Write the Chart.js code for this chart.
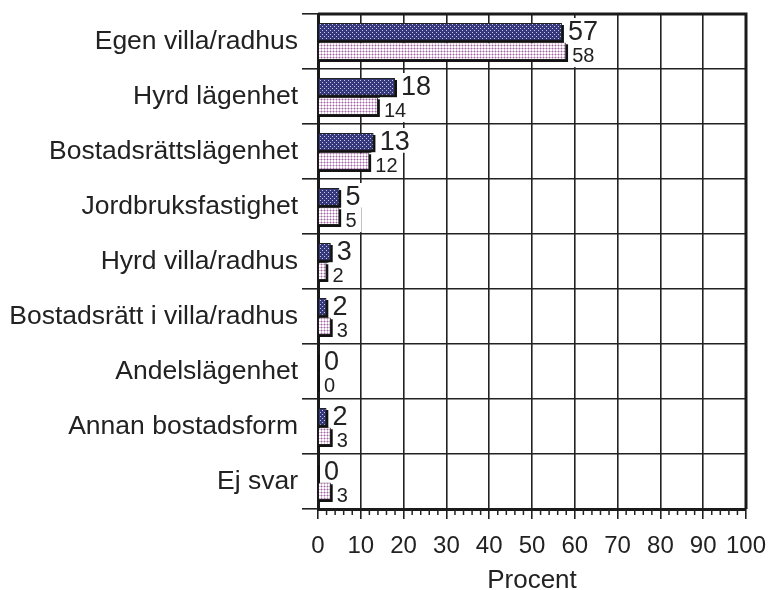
<!DOCTYPE html>
<html lang="sv">
<head>
    <meta charset="UTF-8">
    <title>Boendeform</title>
    <script src="https://cdn.jsdelivr.net/npm/chart.js"></script>
    <style>
        body {
            margin: 0;
            background: #fff;
        }
    </style>
</head>
<body>
    <canvas id="chart" width="771" height="590"></canvas>

    <script>
        const categories = [
            "Egen villa/radhus",
            "Hyrd lägenhet",
            "Bostadsrättslägenhet",
            "Jordbruksfastighet",
            "Hyrd villa/radhus",
            "Bostadsrätt i villa/radhus",
            "Andelslägenhet",
            "Annan bostadsform",
            "Ej svar"
        ];
        const series1 = [57, 18, 13, 5, 3, 2, 0, 2, 0];
        const series2 = [58, 14, 12, 5, 2, 3, 0, 3, 3];
        const xMin = 0;
        const xMax = 100;
        const xStep = 10;
        const minorStep = 2;

        const FONT = '"Liberation Sans", Arial, Helvetica, sans-serif';
        const canvas = document.getElementById("chart");
        const ctx = canvas.getContext("2d");

        // small tiles used as bar fills
        function makePattern(size, draw) {
            const c = document.createElement("canvas");
            c.width = size;
            c.height = size;
            draw(c.getContext("2d"));
            return ctx.createPattern(c, "repeat");
        }

        const navyDots = makePattern(4, g => {
            g.fillStyle = "#35387a";
            g.fillRect(0, 0, 4, 4);
            g.fillStyle = "#c4c6e4";
            g.fillRect(0, 0, 1, 1);
            g.fillRect(2, 2, 1, 1);
        });

        const pinkGrid = makePattern(3, g => {
            g.fillStyle = "#ffffff";
            g.fillRect(0, 0, 3, 3);
            g.fillStyle = "#dcb8da";
            g.fillRect(0, 0, 3, 1);
            g.fillRect(0, 0, 1, 3);
            g.fillStyle = "#9a6aa2";
            g.fillRect(0, 0, 1, 1);
        });

        // black drop shadow behind every bar
        const barShadow = {
            id: "barShadow",
            beforeDatasetsDraw(chart) {
                const c = chart.ctx;
                c.save();
                c.fillStyle = "#111";
                chart.data.datasets.forEach((ds, di) => {
                    chart.getDatasetMeta(di).data.forEach(bar => {
                        const left = Math.min(bar.base, bar.x);
                        const w = Math.abs(bar.x - bar.base);
                        c.fillRect(left, bar.y - bar.height / 2 + 2, w + 2, bar.height);
                    });
                });
                c.restore();
            }
        };

        // value labels on white boxes
        const valueLabels = {
            id: "valueLabels",
            afterDatasetsDraw(chart) {
                const c = chart.ctx;
                c.save();
                chart.data.datasets.forEach((ds, di) => {
                    const size = di === 0 ? 27 : 20;
                    c.font = size + "px " + FONT;
                    c.textBaseline = "middle";
                    chart.getDatasetMeta(di).data.forEach((bar, i) => {
                        const txt = String(ds.data[i]);
                        const w = c.measureText(txt).width;
                        const x = Math.max(bar.x, bar.base) + 2;
                        const half = bar.height / 2;
                        let yc, top, bottom;
                        if (di === 0) {
                            yc = bar.y + 1;
                            top = yc - size * 0.55;
                            bottom = bar.y + half + 2;
                        } else {
                            yc = bar.y + 5;
                            top = bar.y - half;
                            bottom = yc + size * 0.55;
                        }
                        c.fillStyle = "#fff";
                        c.fillRect(x, top, w + 9, bottom - top);
                        c.fillStyle = "#222";
                        c.fillText(txt, x + 4, yc);
                    });
                });
                c.restore();
            }
        };

        // minor ticks on the x axis plus top/right frame
        const frame = {
            id: "frame",
            afterDraw(chart) {
                const c = chart.ctx;
                const area = chart.chartArea;
                const xs = chart.scales.x;
                c.save();
                c.strokeStyle = "#222";
                c.lineWidth = 1.5;
                for (let v = xMin; v <= xMax; v += minorStep) {
                    if (v % xStep === 0) continue;
                    const px = xs.getPixelForValue(v);
                    c.beginPath();
                    c.moveTo(px, area.bottom);
                    c.lineTo(px, area.bottom + 6);
                    c.stroke();
                }
                c.lineWidth = 3;
                c.strokeStyle = "#1a1a1a";
                c.beginPath();
                c.moveTo(area.left, area.top);
                c.lineTo(area.right, area.top);
                c.lineTo(area.right, area.bottom);
                c.stroke();
                c.restore();
            }
        };

        new Chart(ctx, {
            type: "bar",
            data: {
                labels: categories,
                datasets: [
                    {
                        label: "Serie 1",
                        data: series1,
                        backgroundColor: navyDots,
                        borderColor: "#222",
                        borderWidth: 1,
                        categoryPercentage: 0.7,
                        barPercentage: 0.92
                    },
                    {
                        label: "Serie 2",
                        data: series2,
                        backgroundColor: pinkGrid,
                        borderColor: "#222",
                        borderWidth: 1,
                        categoryPercentage: 0.7,
                        barPercentage: 0.92
                    }
                ]
            },
            options: {
                indexAxis: "y",
                responsive: false,
                animation: false,
                layout: {
                    padding: { top: 14, right: 25, left: 0, bottom: 0 }
                },
                plugins: {
                    legend: { display: false },
                    tooltip: { enabled: false }
                },
                scales: {
                    x: {
                        min: xMin,
                        max: xMax,
                        afterFit: s => {
                            s.height = 81;
                            s.paddingLeft = 0;
                            s.paddingRight = 0;
                        },
                        ticks: {
                            stepSize: xStep,
                            autoSkip: false,
                            color: "#222",
                            font: { family: FONT, size: 24 },
                            padding: 13,
                            maxRotation: 0
                        },
                        grid: {
                            color: "#222",
                            lineWidth: 1.6,
                            tickLength: 10
                        },
                        border: { color: "#1a1a1a", width: 3 },
                        title: {
                            display: true,
                            text: "Procent",
                            color: "#222",
                            font: { family: FONT, size: 26, lineHeight: 0.72 },
                            padding: { top: 0, bottom: 0 }
                        }
                    },
                    y: {
                        afterFit: s => {
                            s.width = 318;
                            s.paddingTop = 0;
                            s.paddingBottom = 0;
                        },
                        ticks: {
                            color: "#222",
                            font: { family: FONT, size: 26.5, lineHeight: 1 },
                            padding: 4
                        },
                        grid: {
                            offset: true,
                            color: "#222",
                            lineWidth: 1.6,
                            tickLength: 16
                        },
                        border: { color: "#1a1a1a", width: 3 }
                    }
                }
            },
            plugins: [barShadow, valueLabels, frame]
        });
    </script>
</body>
</html>
